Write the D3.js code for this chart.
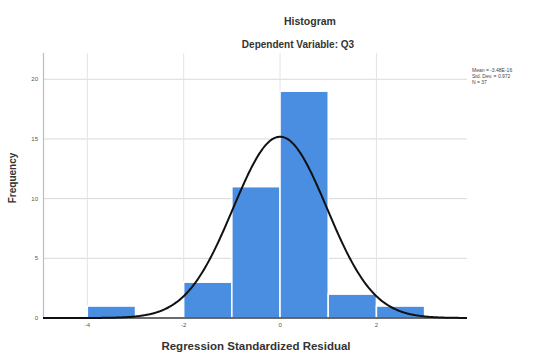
<!DOCTYPE html>
<html><head><meta charset="utf-8">
<script src="https://cdn.jsdelivr.net/npm/d3@7"></script>
<style>body{margin:0;background:#fff}svg{display:block}text{font-family:Arial,"Liberation Sans",sans-serif}</style>
</head><body><svg id="c" width="535" height="353"></svg>
<script>
const binStarts = [-4, -2, -1, 0, 1, 2];
const binWidth = 1;
const frequencies = [1, 3, 11, 19, 2, 1];
const xTicks = [-4, -2, 0, 2];
const yTicks = [0, 5, 10, 15, 20];
const statMean = -3.48e-16, statSD = 0.972, statN = 37;
const statLabels = ["Mean = -3.48E-16", "Std. Dev. = 0.972", "N = 37"];

const svg = d3.select("#c");
const x = d3.scaleLinear().domain([-4.92, 3.88]).range([43, 467]);
const y = d3.scaleLinear().domain([0, 22.2]).range([318, 53]);

// gridlines
svg.append("g").selectAll("line").data(yTicks.filter(d=>d>0)).join("line")
  .attr("x1", 43).attr("x2", 467).attr("y1", d=>y(d)).attr("y2", d=>y(d))
  .attr("stroke", "#d9d9d9").attr("stroke-width", 1);
svg.append("g").selectAll("line").data(xTicks).join("line")
  .attr("x1", d=>x(d)).attr("x2", d=>x(d)).attr("y1", 53).attr("y2", 318)
  .attr("stroke", "#e3e3e3").attr("stroke-width", 1);

// y axis line
svg.append("line").attr("x1", 43.5).attr("x2", 43.5).attr("y1", 53).attr("y2", 318)
  .attr("stroke", "#bdbdbd").attr("stroke-width", 1.2);

// bars
svg.append("g").selectAll("rect").data(binStarts.map((s,i)=>({s, f: frequencies[i]}))).join("rect")
  .attr("x", d=>x(d.s)).attr("width", d=>x(d.s+binWidth)-x(d.s))
  .attr("y", d=>y(d.f)).attr("height", d=>y(0)-y(d.f))
  .attr("fill", "#4a8ee2").attr("stroke", "#fff").attr("stroke-width", 1.5);

// baseline
svg.append("line").attr("x1", 43).attr("x2", 467).attr("y1", 318).attr("y2", 318)
  .attr("stroke", "#3a3a3a").attr("stroke-width", 1.6);

// normal curve
const xs = d3.range(x.domain()[0], x.domain()[1] + 0.001, 0.02);
const pdf = v => statN * binWidth / (statSD * Math.sqrt(2*Math.PI)) * Math.exp(-0.5*((v-statMean)/statSD)**2);
svg.append("path").datum(xs)
  .attr("d", d3.line().x(d=>x(d)).y(d=>y(pdf(d))).curve(d3.curveBasis))
  .attr("fill", "none").attr("stroke", "#111").attr("stroke-width", 2);

// tick labels
svg.append("g").selectAll("text").data(xTicks).join("text")
  .attr("x", d=>x(d)).attr("y", 327).attr("text-anchor", "middle")
  .attr("font-size", 6).attr("fill", "#555").text(d=>d);
svg.append("g").selectAll("text").data(yTicks).join("text")
  .attr("x", 38).attr("y", d=>y(d)+2).attr("text-anchor", "end")
  .attr("font-size", 6).attr("fill", "#555").text(d=>d);

// titles
svg.append("text").attr("x", 310).attr("y", 25).attr("text-anchor", "middle")
  .attr("font-size", 10.5).attr("font-weight", "bold").attr("fill", "#333").text("Histogram");
svg.append("text").attr("x", 298).attr("y", 48).attr("text-anchor", "middle")
  .attr("font-size", 10).attr("font-weight", "bold").attr("fill", "#333").text("Dependent Variable: Q3");
svg.append("text").attr("x", 256).attr("y", 350).attr("text-anchor", "middle")
  .attr("font-size", 11.5).attr("font-weight", "bold").attr("fill", "#333").text("Regression Standardized Residual");
svg.append("text").attr("transform", "translate(16,178) rotate(-90)").attr("text-anchor", "middle")
  .attr("font-size", 10).attr("font-weight", "bold").attr("fill", "#333").text("Frequency");

// stats
svg.append("g").selectAll("text").data(statLabels).join("text")
  .attr("x", 472).attr("y", (d,i)=>71.5 + i*6).attr("font-size", 5).attr("fill", "#444").text(d=>d);
</script></body></html>
